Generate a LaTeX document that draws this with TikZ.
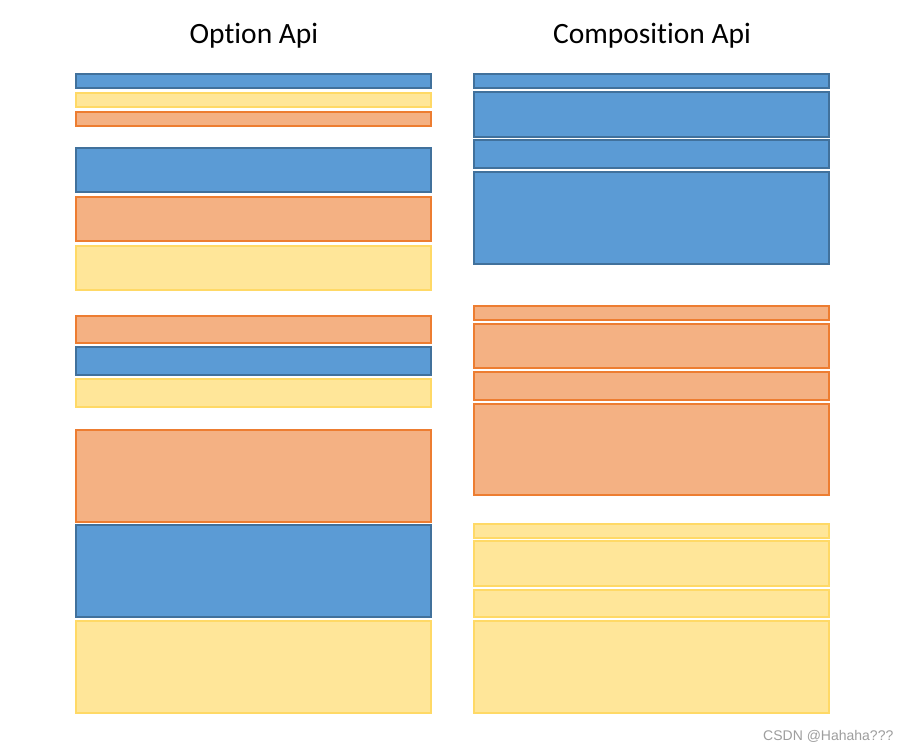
\documentclass[tikz,border=0pt]{standalone}
\usepackage{fontspec}
\usepackage{tikz}
\usetikzlibrary{positioning,calc}
\newfontfamily\calibri[Ligatures={NoCommon,NoRare,NoContextual}]{Carlito}
\newfontfamily\arialfont{Liberation Sans}
\definecolor{ApiBlue}{RGB}{91,155,213}
\definecolor{ApiBlueLine}{RGB}{65,113,156}
\definecolor{ApiOrange}{RGB}{244,177,131}
\definecolor{ApiOrangeLine}{RGB}{237,125,49}
\definecolor{ApiYellow}{RGB}{255,230,153}
\definecolor{ApiYellowLine}{RGB}{255,217,102}
\tikzset{
  blu/.style={fill=ApiBlue,draw=ApiBlueLine,line width=2pt},
  org/.style={fill=ApiOrange,draw=ApiOrangeLine,line width=2pt},
  ylw/.style={fill=ApiYellow,draw=ApiYellowLine,line width=2pt},
  title/.style={font=\calibri\fontsize{29.5}{32}\selectfont,anchor=base,inner sep=0pt},
}
\tikzset{wmark/.style={font=\arialfont\fontsize{14}{16}\selectfont,text=black!38,anchor=base west,inner sep=0pt}}
\begin{document}
\begin{tikzpicture}[x=1pt,y=-1pt]
\useasboundingbox[fill=white](0,0)rectangle(907,750);
\node[title](opt)at(254,43.5){Option Api};
\node[title](comp)at(652,43.5){Composition Api};
% left column: options grouped by type
\foreach \t/\b/\s in {73/89/blu,92/108/ylw,111/127/org,147/193/blu,196/242/org,245/291/ylw,
  315/344/org,346/376/blu,378/408/ylw,429/523/org,524/618/blu,620/714/ylw}{
  \draw[\s](76,\t+1)rectangle(431,\b-1);}
% right column: grouped by feature
\foreach \t/\b/\s in {73/89/blu,91/138/blu,139/169/blu,171/265/blu,
  305/321/org,323/369/org,371/401/org,403/496/org,523/539/ylw,540/587/ylw,589/618/ylw,620/714/ylw}{
  \draw[\s](474,\t+1)rectangle(829,\b-1);}
\node[wmark](csdn)at(763,740){CSDN @Hahaha???};
\end{tikzpicture}
\end{document}
